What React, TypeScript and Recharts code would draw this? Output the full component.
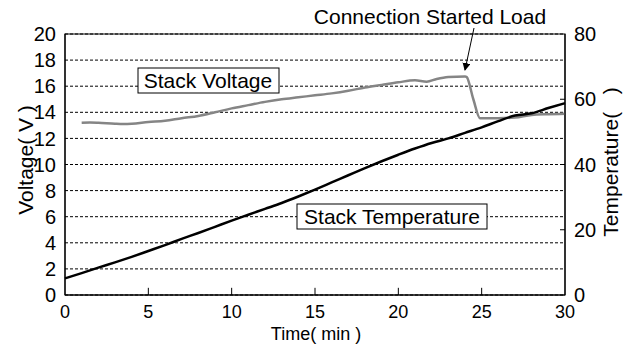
import React from 'react';
import { CartesianGrid, Line, LineChart, ReferenceArea, ReferenceLine, XAxis, YAxis } from 'recharts';

const voltTime = [1, 1.5, 2, 3, 3.5, 4, 5, 6, 7, 8, 9, 10, 11, 12, 13, 14, 15, 16, 17, 18, 19, 20, 21, 21.7, 22.3, 23, 24, 24.1, 24.5, 24.9, 26, 27, 28, 29, 30];
const voltValues = [13.2, 13.22, 13.2, 13.12, 13.1, 13.12, 13.25, 13.35, 13.55, 13.72, 14.0, 14.3, 14.55, 14.8, 15.0, 15.15, 15.3, 15.45, 15.65, 15.9, 16.1, 16.3, 16.45, 16.35, 16.55, 16.7, 16.75, 16.7, 15.0, 13.55, 13.55, 13.6, 13.8, 13.85, 13.88];

const tempTime = [0, 1, 2, 3, 4, 5, 6, 7, 8, 9, 10, 11, 12, 13, 14, 15, 16, 17, 18, 19, 20, 21, 22, 23, 24, 25, 26, 27, 28, 29, 30];
const tempValues = [5.1, 6.7, 8.4, 10.0, 11.7, 13.5, 15.3, 17.2, 19.0, 20.9, 22.8, 24.6, 26.4, 28.2, 30.2, 32.3, 34.5, 36.7, 38.9, 41.0, 43.0, 44.9, 46.6, 48.0, 49.7, 51.4, 53.3, 55.0, 55.7, 57.3, 58.8];

const timeTicks = [0, 5, 10, 15, 20, 25, 30];
const voltTicks = [0, 2, 4, 6, 8, 10, 12, 14, 16, 18, 20];
const tempTicks = [0, 20, 40, 60, 80];

const voltData = voltTime.map((t, i) => ({ t, v: voltValues[i] }));
const tempData = tempTime.map((t, i) => ({ t, temp: tempValues[i] }));

// inner tick marks (matlab style), short segments in data units
const innerTimeTicks = timeTicks.slice(1, -1);
const innerTempTicks = tempTicks.slice(1, -1);

const FONT = '"Liberation Sans", Arial, sans-serif';

const App = () => {
  return (
    <div style={{ position: 'absolute', left: 0, top: 0, width: 629, height: 347, background: '#fff', fontFamily: FONT }}>
      <LineChart width={629} height={347} margin={{ top: 34, right: 0, bottom: 0, left: 0 }}>
        <CartesianGrid yAxisId="v" vertical={false} horizontalValues={voltTicks} stroke="#000" strokeDasharray="3 2" />
        <XAxis
          dataKey="t"
          type="number"
          domain={[0, 30]}
          ticks={timeTicks}
          interval={0}
          allowDuplicatedCategory={false}
          height={52}
          stroke="#000"
          tickLine={false}
          tickMargin={4}
          tick={{ fill: '#000', fontSize: 18, fontFamily: FONT }}
        />
        <YAxis
          yAxisId="v"
          orientation="left"
          domain={[0, 20]}
          ticks={voltTicks}
          interval={0}
          width={65}
          stroke="#000"
          tickLine={false}
          tickMargin={3}
          tick={{ fill: '#000', fontSize: 20, fontFamily: FONT }}
        />
        <YAxis
          yAxisId="t"
          orientation="right"
          domain={[0, 80]}
          ticks={tempTicks}
          interval={0}
          width={64}
          stroke="#000"
          tickLine={false}
          tickMargin={3}
          tick={{ fill: '#000', fontSize: 20, fontFamily: FONT }}
        />
        <ReferenceArea yAxisId="v" x1={0} x2={30} y1={0} y2={20} fill="none" stroke="#000" strokeWidth={1.2} />
        {innerTimeTicks.map((x) => (
          <ReferenceLine key={'xt' + x} yAxisId="v" segment={[{ x, y: 0 }, { x, y: 0.55 }]} stroke="#000" />
        ))}
        {innerTempTicks.map((y) => (
          <ReferenceLine key={'yt' + y} yAxisId="t" segment={[{ x: 29.7, y }, { x: 30, y }]} stroke="#000" />
        ))}
        <Line yAxisId="v" data={voltData} dataKey="v" type="monotone" stroke="#858585" strokeWidth={2.5} dot={false} isAnimationActive={false} />
        <Line yAxisId="t" data={tempData} dataKey="temp" type="monotone" stroke="#000" strokeWidth={2.5} dot={false} isAnimationActive={false} />
      </LineChart>
      <svg width={629} height={347} style={{ position: 'absolute', left: 0, top: 0, pointerEvents: 'none' }}>
        <defs>
          <marker id="arr" markerWidth="8" markerHeight="10" refX="7" refY="4" orient="auto" markerUnits="userSpaceOnUse">
            <path d="M0,0 L8,4 L0,8 Z" fill="#000" />
          </marker>
        </defs>
        <g fontFamily={FONT} fill="#000">
          <text x={25} y={160} fontSize={21} textAnchor="middle" dominantBaseline="central" transform="rotate(-90 25 160)">Voltage( V )</text>
          <text x={610} y={162} fontSize={21} textAnchor="middle" dominantBaseline="central" transform="rotate(-90 610 162)">{'Temperature(\u00a0\u00a0\u00a0)'}</text>
          <text x={316} y={340} fontSize={18} textAnchor="middle">Time( min )</text>
          <text x={430} y={24} fontSize={21} textAnchor="middle">Connection Started Load</text>
        </g>
        <line x1={474} y1={28} x2={465} y2={70} stroke="#000" strokeWidth={1} markerEnd="url(#arr)" />
        <rect x={138} y={68} width={141} height={25} fill="#fff" stroke="#000" strokeWidth={1} />
        <text x={208} y={88} fontSize={21} fontFamily={FONT} textAnchor="middle" fill="#000">Stack Voltage</text>
        <rect x={297} y={204} width={190} height={25} fill="#fff" stroke="#000" strokeWidth={1} />
        <text x={392} y={224} fontSize={21} fontFamily={FONT} textAnchor="middle" fill="#000">Stack Temperature</text>
      </svg>
    </div>
  );
};

export default App;
